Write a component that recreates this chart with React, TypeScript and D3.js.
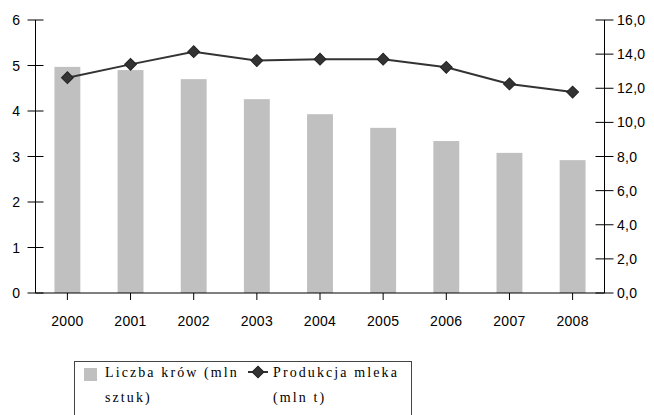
import React from "react";
import * as d3 from "d3";

const years = ["2000", "2001", "2002", "2003", "2004", "2005", "2006", "2007", "2008"];
const cows = [4.97, 4.9, 4.7, 4.26, 3.93, 3.63, 3.34, 3.08, 2.92];
const milk = [12.62, 13.4, 14.14, 13.62, 13.7, 13.7, 13.23, 12.25, 11.78];
const leftTicks = [0, 1, 2, 3, 4, 5, 6];
const rightTicks = [0, 2, 4, 6, 8, 10, 12, 14, 16];

const W = 654;
const H = 415;
const L = 35.5;
const R = 604.5;
const T = 20;
const B = 293;

export default function App() {
  const x = d3.scaleBand<string>().domain(years).range([L, R]).paddingInner(0.59).paddingOuter(0.3);
  const yL = d3.scaleLinear().domain([0, 6]).range([B, T]);
  const yR = d3.scaleLinear().domain([0, 16]).range([B, T]);
  const cx = (y: string) => (x(y) ?? 0) + x.bandwidth() / 2;
  const line = d3
    .line<number>()
    .x((_, i) => cx(years[i]))
    .y((d) => yR(d));
  const diamond = d3.symbol(d3.symbolSquare, 70)() as string;
  const sans = "'Liberation Sans', Arial, sans-serif";
  const serif = "'Liberation Serif', 'Times New Roman', serif";

  return (
    <svg width={W} height={H} style={{ position: "absolute", left: 0, top: 0, background: "#fff" }}>
      {/* bars */}
      {cows.map((v, i) => (
        <rect key={i} x={x(years[i])} y={yL(v)} width={x.bandwidth()} height={B - yL(v)} fill="#c0c0c0" />
      ))}
      {/* x axis */}
      <line x1={L} x2={R} y1={B} y2={B} stroke="#000" strokeWidth={1} />
      {years.map((y) => (
        <g key={y}>
          <line x1={cx(y)} x2={cx(y)} y1={B} y2={B + 7} stroke="#000" />
          <text x={cx(y)} y={B + 33} textAnchor="middle" fontFamily={sans} fontSize={14} letterSpacing={0.3} fill="#000">
            {y}
          </text>
        </g>
      ))}
      {/* left axis */}
      <line x1={L} x2={L} y1={T} y2={B} stroke="#000" />
      {leftTicks.map((t) => (
        <g key={t}>
          <line x1={L - 8} x2={L + 8} y1={yL(t)} y2={yL(t)} stroke="#000" />
          <text x={20} y={yL(t) + 5} textAnchor="end" fontFamily={sans} fontSize={14} fill="#000">
            {t}
          </text>
        </g>
      ))}
      {/* right axis */}
      <line x1={R} x2={R} y1={T} y2={B} stroke="#000" />
      {rightTicks.map((t) => (
        <g key={t}>
          <line x1={R - 9} x2={R + 9} y1={yR(t)} y2={yR(t)} stroke="#000" />
          <text x={617} y={yR(t) + 5} textAnchor="start" fontFamily={sans} fontSize={14} letterSpacing={0.3} fill="#000">
            {t.toFixed(1).replace(".", ",")}
          </text>
        </g>
      ))}
      {/* line */}
      <path d={line(milk) ?? ""} fill="none" stroke="#333" strokeWidth={2} />
      {milk.map((v, i) => (
        <path
          key={i}
          d={diamond}
          transform={`translate(${cx(years[i])},${yR(v)}) rotate(45)`}
          fill="#333"
          stroke="#222"
          strokeWidth={1}
        />
      ))}
      {/* legend */}
      <rect x={74.5} y={361.5} width={337} height={70} fill="none" stroke="#444" strokeWidth={1} />
      <rect x={84} y={368} width={13} height={13} fill="#c0c0c0" />
      <text x={105} y={377} fontFamily={serif} fontSize={14} letterSpacing={2.1} fill="#000">
        Liczba krów (mln
      </text>
      <text x={105} y={402} fontFamily={serif} fontSize={14} letterSpacing={2.1} fill="#000">
        sztuk)
      </text>
      <line x1={248} x2={268} y1={372} y2={372} stroke="#333" strokeWidth={2} />
      <path d={diamond} transform="translate(258,372) rotate(45)" fill="#333" stroke="#222" />
      <text x={273} y={377} fontFamily={serif} fontSize={14} letterSpacing={2.1} fill="#000">
        Produkcja mleka
      </text>
      <text x={273} y={402} fontFamily={serif} fontSize={14} letterSpacing={2.1} fill="#000">
        (mln t)
      </text>
    </svg>
  );
}
